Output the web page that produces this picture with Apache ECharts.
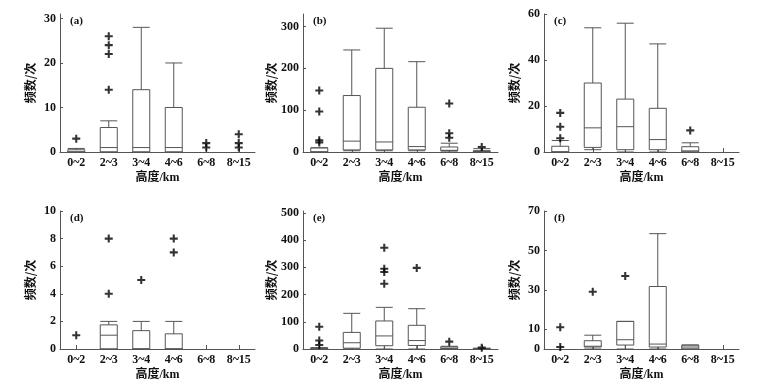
<!DOCTYPE html>
<html>
<head>
<meta charset="utf-8">
<script src="https://cdn.jsdelivr.net/npm/echarts@6/dist/echarts.min.js"></script>
<style>html,body{margin:0;padding:0;background:#fff}#c{width:764px;height:384px}</style>
</head>
<body>
<div id="c"></div>
<script>
const categories = ['0~2', '2~3', '3~4', '4~6', '6~8', '8~15'];
const panelLabels = ['(a)', '(b)', '(c)', '(d)', '(e)', '(f)'];
const xName = '高度/km';
const yName = '频数/次';

// boxplot values: [min, Q1, median, Q3, max], null = no box
const boxA = [[0, 0, 0, 0.5, 0.8], [0, 0, 1, 5.5, 7], [0, 0, 1, 14, 28], [0, 0, 1, 10, 20], null, null];
const outA = [[0, 3], [1, 14], [1, 22], [1, 24], [1, 26], [4, 1], [4, 2], [5, 1], [5, 2], [5, 4]];
const boxB = [[0, 0, 0, 10, 10], [3, 5, 26, 135, 244], [3, 5, 24, 200, 296], [3, 5, 13, 107, 216], [0, 3, 4, 12, 21], [0, 1, 2, 3, 8]];
const outB = [[0, 147], [0, 97], [0, 28], [0, 23], [4, 116], [4, 45], [4, 34], [5, 12]];
const boxC = [[0, 0, 0, 2.5, 5], [1, 2, 10.5, 30, 54], [0, 1, 11, 23, 56], [0, 1, 5.4, 19, 47], [0, 0, 0.5, 2.3, 4], null];
const outC = [[0, 17], [0, 11], [0, 6], [4, 9.4]];
const boxD = [null, [0, 0, 1, 1.75, 2], [0, 0, 0, 1.33, 2], [0, 0, 0, 1.1, 2], null, null];
const outD = [[0, 1], [1, 8], [1, 4], [2, 5], [3, 8], [3, 7]];
const boxE = [[0, 0, 1, 4, 5], [0, 3, 23, 61, 131], [0, 12, 48, 103, 153], [0, 13, 31, 87, 148], [0, 1, 3, 8, 10], [0, 0, 1, 2, 3]];
const outE = [[0, 82], [0, 31], [0, 15], [2, 372], [2, 295], [2, 283], [2, 240], [3, 298], [4, 27], [5, 5]];
const boxF = [null, [0, 1, 1.4, 4.2, 7], [0, 2, 4.7, 14, 14], [0, 1, 2.5, 31.7, 58.5], [0, 0, 1, 2, 2], null];
const outF = [[0, 11], [0, 1], [1, 29], [2, 37]];

// y axis: max and tick values
const yMaxes = [31, 330, 60, 10, 507, 70];
const yTicks = [[0, 10, 20, 30], [0, 100, 200, 300], [0, 20, 40, 60], [0, 2, 4, 6, 8, 10], [0, 100, 200, 300, 400, 500], [0, 10, 30, 50, 70]];

const boxes = [boxA, boxB, boxC, boxD, boxE, boxF];
const outs = [outA, outB, outC, outD, outE, outF];

const colLeft = [60, 303, 544];
const rowTop = [14, 211];
const gw = 195, gh = 138;
const numFont = "'Liberation Serif','Noto Sans CJK SC',serif";
const plus = 'path://M-1.3,-5L1.3,-5L1.3,-1.3L5,-1.3L5,1.3L1.3,1.3L1.3,5L-1.3,5L-1.3,1.3L-5,1.3L-5,-1.3L-1.3,-1.3Z';

const grid = [], xAxis = [], yAxis = [], series = [], title = [];
for (let i = 0; i < 6; i++) {
  const c = i % 3, r = Math.floor(i / 3);
  grid.push({left: colLeft[c], top: rowTop[r], width: gw, height: gh, outerBoundsMode: 'none', containLabel: false});
  xAxis.push({
    type: 'category', gridIndex: i, data: categories, boundaryGap: true,
    axisLine: {lineStyle: {color: '#555', width: 1}},
    axisTick: {show: true, inside: true, alignWithLabel: true, length: 4, lineStyle: {color: '#555'}},
    axisLabel: {color: '#111', fontFamily: numFont, fontWeight: 'bold', fontSize: 12, margin: 5, interval: 0},
    name: xName, nameLocation: 'middle', nameGap: 20,
    nameTextStyle: {color: '#111', fontFamily: numFont, fontWeight: 'bold', fontSize: 12},
    splitLine: {show: false}
  });
  yAxis.push({
    type: 'value', gridIndex: i, min: 0, max: yMaxes[i],
    axisLine: {show: true, lineStyle: {color: '#555', width: 1}},
    axisTick: {show: true, inside: true, length: 3, customValues: yTicks[i], lineStyle: {color: '#555'}},
    axisLabel: {color: '#111', fontFamily: numFont, fontWeight: 'bold', fontSize: 12, margin: 4, customValues: yTicks[i]},
    splitLine: {show: false},
    name: yName, nameLocation: 'middle', nameRotate: 90, nameGap: 24,
    nameTextStyle: {color: '#111', fontFamily: "'Noto Sans CJK SC','Liberation Serif',sans-serif", fontWeight: 'bold', fontSize: 12}
  });
  title.push({
    text: panelLabels[i], left: colLeft[c] + 5, top: rowTop[r] - 3,
    textStyle: {fontFamily: numFont, fontWeight: 'bold', fontSize: 11, color: '#111'}
  });
  const bd = boxes[i].map((b, k) => b ? [k].concat(b) : null).filter(Boolean);
  series.push({
    type: 'boxplot', xAxisIndex: i, yAxisIndex: i,
    data: bd, encode: {x: 0, y: [1, 2, 3, 4, 5]},
    boxWidth: [17, 17],
    itemStyle: {color: '#fff', borderColor: '#555', borderWidth: 1},
    emphasis: {disabled: true}, silent: true, animation: false
  });
  series.push({
    type: 'scatter', xAxisIndex: i, yAxisIndex: i,
    data: outs[i], symbol: plus, symbolSize: 8,
    itemStyle: {color: '#000'}, silent: true, animation: false
  });
}

const chart = echarts.init(document.getElementById('c'), null, {renderer: 'canvas'});
chart.setOption({animation: false, backgroundColor: '#fff', title, grid, xAxis, yAxis, series});
</script>
</body>
</html>
